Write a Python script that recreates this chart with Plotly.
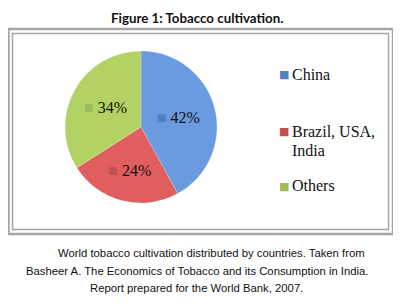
import plotly.graph_objects as go

labels = ["China", "Brazil, USA, India", "Others"]
values = [42, 24, 34]
colors = ["#6A9AE0", "#E05E5E", "#B2D363"]
key_colors = ["#4F81BD", "#C0504D", "#9BBB59"]
legend_lines = [["China"], ["Brazil, USA,", "India"], ["Others"]]

title = "Figure 1: Tobacco cultivation."
caption = [
    "World tobacco cultivation distributed by countries. Taken from",
    "Basheer A. The Economics of Tobacco and its Consumption in India.",
    "Report prepared for the World Bank, 2007.",
]

# page body has an 8px margin; figure occupies page x 8..401, y 8..304
OFF = 8
W, H = 401 - OFF, 304 - OFF
def px(x): return (x - OFF) / W
def py(y): return 1 - (y - OFF) / H

texttemplate = [
    "<span style='color:%s'>■</span> %%{value}%%" % c for c in key_colors
]

fig = go.Figure(go.Pie(
    labels=labels,
    values=values,
    sort=False,
    direction="clockwise",
    rotation=0,
    marker=dict(colors=colors, line=dict(color="rgba(255,255,255,0.4)", width=0.5)),
    texttemplate=texttemplate,
    textposition="inside",
    insidetextorientation="horizontal",
    textfont=dict(family="Liberation Serif", size=16, color="#111"),
    showlegend=False,
    domain=dict(x=[px(64), px(218)], y=[py(203), py(51)]),
    hoverinfo="label+percent",
))

shapes = [
    dict(type="path", xref="paper", yref="paper",
         path="M %f,%f L %f,%f L %f,%f L %f,%f Z" % (px(8.5), py(29), px(393), py(29), px(393), py(234), px(8.5), py(234)),
         line=dict(color="#A6A6A6", width=2.5)),
    dict(type="rect", xref="paper", yref="paper",
         x0=px(12.5), x1=px(388.5), y0=py(229.5), y1=py(33.5),
         line=dict(color="#A6A6A6", width=1.5)),
]

annotations = [
    dict(text="<b>%s</b>" % title, x=px(197), y=py(18), xref="paper", yref="paper",
         showarrow=False, font=dict(family="Lato", size=13.3, color="#111"),
         xanchor="center", yanchor="middle"),
]
for i, (ln, yy) in enumerate(zip(caption, [253, 271, 288])):
    cx = [211, 197, 196][i]
    annotations.append(dict(text=ln, x=px(cx), y=py(yy), xref="paper", yref="paper",
                            showarrow=False, font=dict(family="Liberation Sans", size=11.3, color="#111"),
                            xanchor="center", yanchor="middle"))

leg_y = [[74], [131, 150], [185]]
for i in range(3):
    annotations.append(dict(text="<span style='color:%s'>■</span>" % key_colors[i],
                            x=px(277), y=py(leg_y[i][0] + 1), xref="paper", yref="paper",
                            showarrow=False, font=dict(family="DejaVu Sans", size=11),
                            xanchor="left", yanchor="middle"))
    for ln, yy in zip(legend_lines[i], leg_y[i]):
        annotations.append(dict(text=ln, x=px(290), y=py(yy), xref="paper", yref="paper",
                                showarrow=False,
                                font=dict(family="Liberation Serif", size=16, color="#111"),
                                xanchor="left", yanchor="middle"))

fig.update_layout(
    width=W, height=H,
    margin=dict(l=0, r=0, t=0, b=0),
    paper_bgcolor="white",
    shapes=shapes,
    annotations=annotations,
)

fig.write_html("out.html")
